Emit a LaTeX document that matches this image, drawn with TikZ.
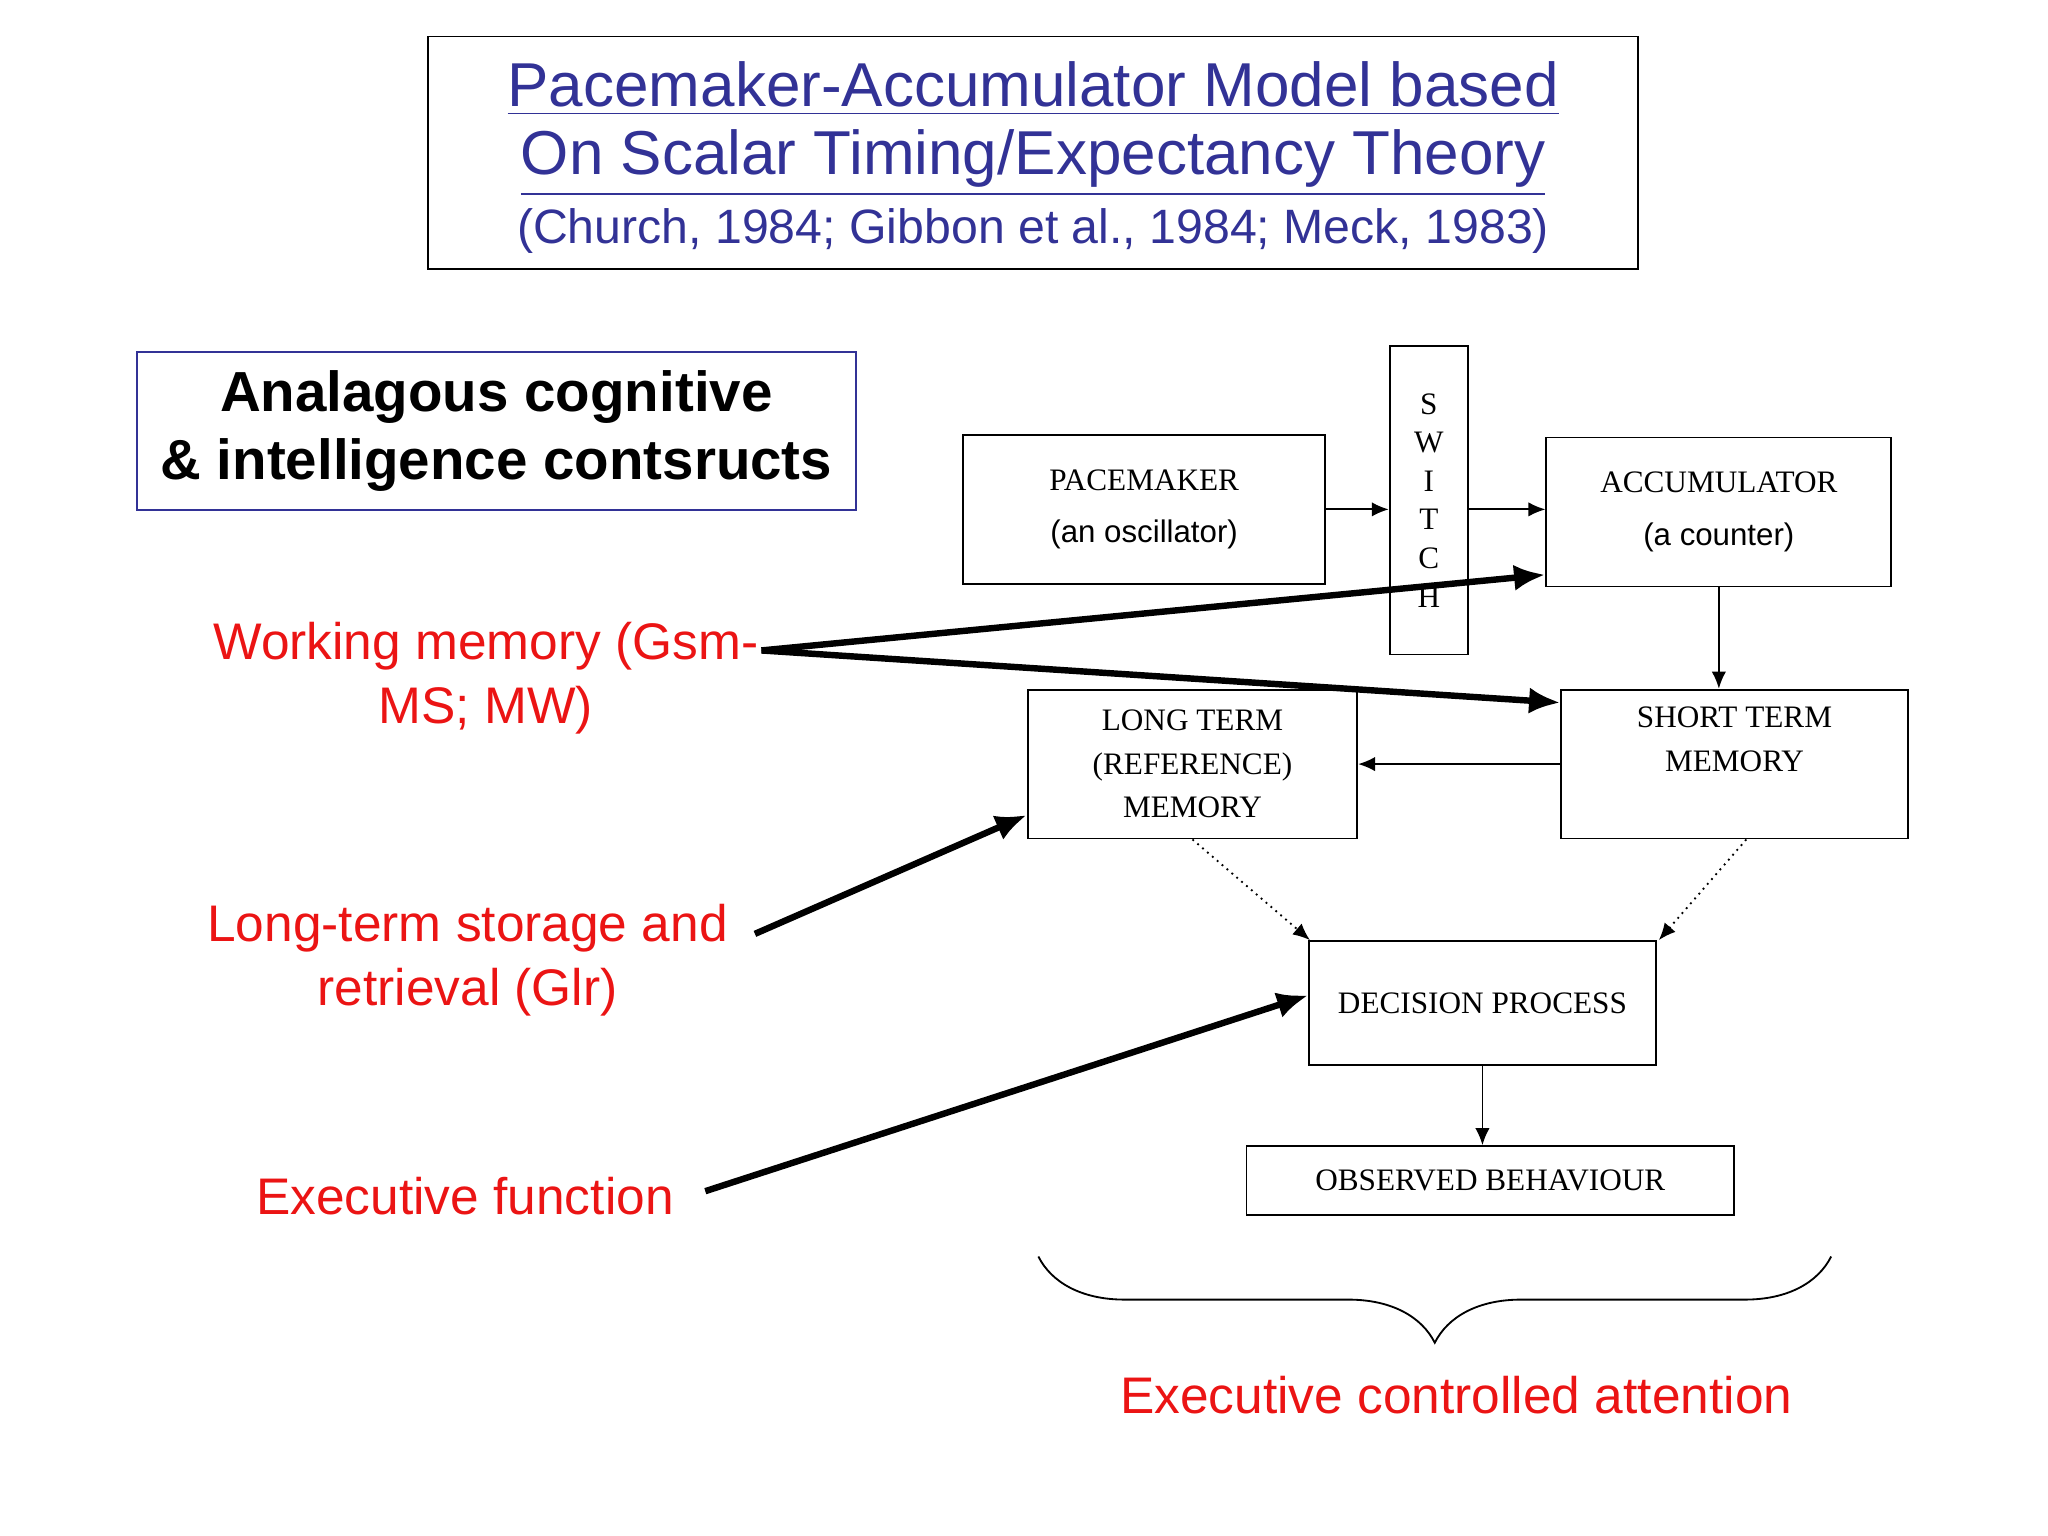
\documentclass[tikz,border=0pt]{standalone}
\usepackage{fontspec}
\setmainfont{Liberation Sans}
\newfontfamily\boxfont{Liberation Serif}
\usetikzlibrary{arrows.meta, positioning, decorations.pathreplacing}
\definecolor{titleblue}{RGB}{50,50,150}
\definecolor{labelred}{RGB}{235,20,20}
\begin{document}
\begin{tikzpicture}[x=0.01cm, y=-0.01cm,
  every node/.style={align=center},
  % boxes of the timing model
  model/.style={rectangle, draw=black, thin, inner sep=0pt, font=\boxfont\fontsize{6.8}{9.5}\selectfont},
  % thin arrows inside the model
  flow/.style={-{Latex[length=1.3mm, width=1.1mm]}, thin, draw=black},
  % thick arrows from the red constructs
  link/.style={-{Latex[length=2.4mm, width=2mm]}, line width=1.4pt, draw=black},
  construct/.style={text=labelred, font=\fontsize{11.2}{14}\selectfont}
]
\useasboundingbox (0,0) rectangle (1568,1176);

% === TITLE ===
\node[draw=black, thin, minimum width=9.26cm, minimum height=1.78cm, inner sep=0pt] (title) at (791,117) {};
\node[text=titleblue, font=\fontsize{13.5}{16}\selectfont] (tline1) at (791,68) {\underline{Pacemaker-Accumulator Model based}};
\node[text=titleblue, font=\fontsize{13.5}{16}\selectfont] (tline2) at (791,125) {\underline{On Scalar Timing/Expectancy Theory}};
\node[text=titleblue, font=\fontsize{10.5}{13}\selectfont] (tline3) at (791,177) {(Church, 1984; Gibbon et al., 1984; Meck, 1983)};

% === CONSTRUCTS BOX ===
\node[draw=titleblue, thin, minimum width=5.5cm, minimum height=1.21cm, inner sep=0pt,
  font=\bfseries\fontsize{12.3}{15}\selectfont] (analog) at (380,330) {Analagous cognitive\\\& intelligence contsructs};

% === MODEL BOXES ===
\node[model, minimum width=2.77cm, minimum height=1.14cm] (pace) at (876,390) {PACEMAKER\\[2pt]{\rmfamily\fontsize{6.8}{9}\selectfont(an oscillator)}};
\node[model, minimum width=0.6cm, minimum height=2.36cm, font=\boxfont\fontsize{6.8}{8.4}\selectfont] (switch) at (1094,383) {S\\W\\I\\T\\C\\H};
\node[model, minimum width=2.64cm, minimum height=1.14cm] (accu) at (1316,392) {ACCUMULATOR\\[2pt]{\rmfamily\fontsize{6.8}{9}\selectfont(a counter)}};
\node[model, minimum width=2.52cm, minimum height=1.14cm] (ltm) at (913,585) {LONG TERM\\(REFERENCE)\\MEMORY};
\node[model, minimum width=2.65cm, minimum height=1.14cm] (stm) at (1328,585) {};
\node[model, draw=none] (stmtext) at (1328,566) {SHORT TERM\\MEMORY};
\node[model, minimum width=2.65cm, minimum height=0.95cm] (decide) at (1135,768) {DECISION PROCESS};
\node[model, minimum width=3.73cm, minimum height=0.53cm] (observe) at (1141,904) {OBSERVED BEHAVIOUR};

% === MODEL FLOW ===
\draw[flow] (pace.east) -- (switch.west |- pace.east);
\draw[flow] (switch.east |- pace.east) -- (accu.west |- pace.east);
\draw[flow] (accu.south) -- (accu.south |- stm.north);
\draw[flow] (stm.west) -- (ltm.east);
\draw[flow, densely dotted] (ltm.south) -- ([xshift=-1.32cm]decide.north);
\draw[flow, densely dotted] ([xshift=0.09cm]stm.south) -- ([xshift=1.35cm]decide.north);
\draw[flow] (decide.south) -- (decide.south |- observe.north);

% === CONSTRUCTS ===
\node[construct] (wm) at (372,519) {Working memory (Gsm-\\MS; MW)};
\node[construct] (glr) at (358,735) {Long-term storage and\\retrieval (Glr)};
\node[construct] (exec) at (356,916) {Executive function};
\coordinate (wmtip) at (583,498);
\draw[link] (wmtip) -- ([yshift=-0.48cm]accu.west);
\draw[link] (wmtip) -- ([yshift=0.47cm]stm.west);
\draw[link] (578,715) -- ([yshift=-0.39cm]ltm.west);
\draw[link] (540,912) -- ([yshift=0.06cm]decide.west);

% === ATTENTION BRACE ===
\coordinate (bl) at (795,962);
\coordinate (br) at (1402,962);
\draw[thin, decorate, decoration={brace, mirror, amplitude=0.66cm, aspect=0.5}] (bl) -- (br);
\node[construct] (attn) at (1115,1068) {Executive controlled attention};
\end{tikzpicture}
\end{document}
